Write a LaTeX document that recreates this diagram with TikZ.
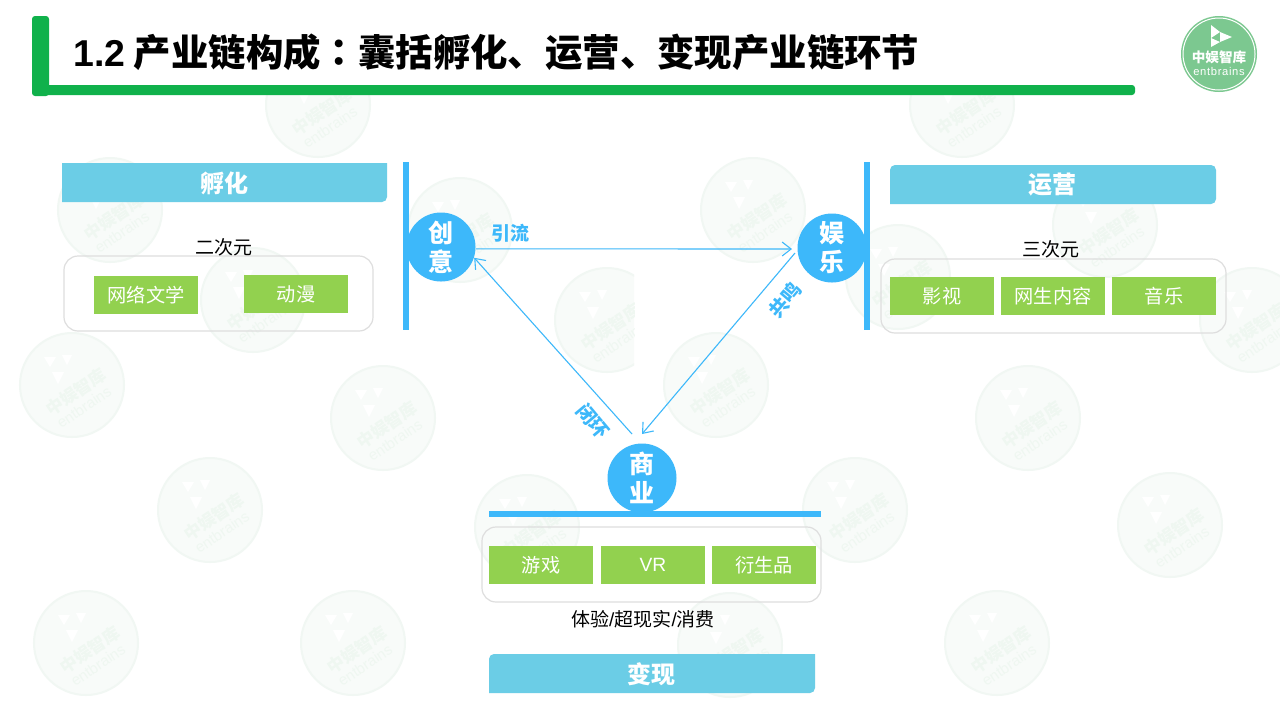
\documentclass[tikz,border=0pt]{standalone}
\usepackage{fontspec}
\setmainfont{Noto Sans CJK SC}
\newfontfamily\tcfont{Noto Sans CJK TC}
\newfontfamily\latinfont{Liberation Sans}
\newfontfamily\spacedfont[LetterSpace=6]{Liberation Sans}
\usetikzlibrary{arrows.meta}
\definecolor{barblue}{HTML}{3DB8FA}
\definecolor{headblue}{HTML}{6BCDE6}
\definecolor{leaf}{HTML}{92D14F}
\definecolor{titlegreen}{HTML}{10B14B}
\definecolor{logogreen}{HTML}{7CC890}
\definecolor{wmfill}{HTML}{F8FBF9}
\definecolor{wmring}{HTML}{F1F7F3}
\definecolor{wmtext}{HTML}{EFF7F1}
\newcommand{\pxs}[2]{\fontsize{#1}{#2}\selectfont}
\newcommand{\wmark}[2]{%
  \begin{scope}[shift={(#1,#2)}]
    \fill[wmfill,draw=wmring,line width=1pt] (0,0) circle (52);
    \fill[white] (-28,-28)--(-16,-28)--(-22,-18)--cycle (-10,-30)--(0,-30)--(-5,-20)--cycle (-20,-13)--(-8,-13)--(-14,-1)--cycle;
    \node[text=wmtext,rotate=34,font=\pxs{8.5}{10}\bfseries,inner sep=0pt] at (4,7) {中娱智库};
    \node[text=wmtext,rotate=34,font=\latinfont\pxs{7.5}{9},inner sep=0pt] at (12,22) {entbrains};
  \end{scope}}
\tikzset{
  x=0.5pt,y=-0.5pt,
  leafbox/.style={fill=leaf,text=white,minimum width=52pt,minimum height=19pt,inner sep=0pt,font=\pxs{9.6}{12}},
  groupbox/.style={draw=black!13,line width=.6pt,rounded corners=7pt},
  headfill/.style={fill=headblue},
  headtext/.style={text=white,font=\pxs{12}{14}\bfseries,inner sep=0pt},
  plain/.style={text=black,font=\pxs{9.5}{12},inner sep=0pt},
  hub/.style={circle,fill=barblue,text=white,minimum size=34.5pt,inner sep=0pt,align=center,font=\pxs{12.5}{14.5}\bfseries},
  wire/.style={draw=barblue,line width=.55pt},
  wiretip/.style={wire,-{Straight Barb[length=4.5pt,width=7pt,line width=.55pt]}},
  tag/.style={text=barblue,font=\pxs{9.5}{11}\bfseries,inner sep=0pt},
  rail/.style={fill=barblue},
}
\begin{document}
\begin{tikzpicture}
\useasboundingbox (0,0) rectangle (1280,720);
\fill[white] (0,0) rectangle (1280,720);
% watermarks
\begin{scope}
\clip (0,0) rectangle (1280,720);
\foreach \a/\b in {318/105,962/105,110/210,753/210,1105/225,460/230,253/300,898/277,1252/320,72/385,716/385,383/418,1028/418,210/510,527/527,855/510,1170/525,86/643,353/643,730/645,997/643}{\wmark{\a}{\b}}
\begin{scope}
\clip (500,200) rectangle (634,440);
\wmark{607}{320}
\end{scope}
\end{scope}
\fill[white] (0,0) rectangle (1280,85);
% title
\fill[titlegreen,rounded corners=1.5pt] (32,16) rectangle (49,96);
\fill[titlegreen,rounded corners=1.5pt] (40,85) rectangle (1135,95);
\node[anchor=west,inner sep=0pt,text=black,font=\pxs{18.7}{22}\bfseries] (title) at (73,52)
  {{\latinfont 1.2} 产业链构成{\tcfont ：}囊括孵化、运营、变现产业链环节};
% logo
\fill[logogreen] (1219,54) circle (38);
\draw[white,line width=.5pt] (1219,54) circle (36);
\fill[white] (1211,25)--(1211,38)--(1220,32)--cycle (1220,32)--(1232,37)--(1220,42)--cycle (1211,38)--(1220,42)--(1211,47)--cycle;
\node[text=white,font=\pxs{6.8}{8}\bfseries,inner sep=0pt] (logoa) at (1219,57) {中娱智库};
\node[text=white,font=\spacedfont\pxs{5.6}{7},inner sep=0pt] (logob) at (1219,71) {entbrains};
% headers
\path[headfill,rounded corners=2.5pt] (62,163) [sharp corners] -- (387,163) [rounded corners=2.5pt] -- (387,202) [sharp corners] -- (62,202) -- cycle;
\node[headtext] (h1) at (224,183) {孵化};
\path[headfill,rounded corners=2.5pt] (890,170) [rounded corners=2.5pt] -- (890,165) -- (1216,165) [rounded corners=2.5pt] -- (1216,204) [sharp corners] -- (890,204) -- cycle;
\node[headtext] (h2) at (1052,185) {运营};
\path[headfill] (489,660) [rounded corners=2.5pt] -- (489,654) [sharp corners] -- (815,654) [rounded corners=2.5pt] -- (815,693) [sharp corners] -- (489,693) -- cycle;
\node[headtext] (h3) at (651,674) {变现};
% group frames
\draw[groupbox] (64,256) rectangle (373,331);
\draw[groupbox] (881,259) rectangle (1226,333);
\draw[groupbox] (482,527) rectangle (821,602);
% green boxes
\node[leafbox] (b1) at (146,295) {网络文学};
\node[leafbox] (b2) at (296,294) {动漫};
\node[leafbox] (b3) at (942,296) {影视};
\node[leafbox] (b4) at (1053,296) {网生内容};
\node[leafbox] (b5) at (1164,296) {音乐};
\node[leafbox] (b6) at (541,565) {游戏};
\node[leafbox] (b7) at (653,565) {{\latinfont VR}};
\node[leafbox] (b8) at (764,565) {衍生品};
% captions
\node[plain] (c1) at (224,247) {二次元};
\node[plain] (c2) at (1051,249) {三次元};
\node[plain] (c3) at (643,619) {体验{\latinfont /}超现实{\latinfont /}消费};
% hubs
\node[hub] (cy) at (441,247) {创\\意};
\node[hub] (yl) at (832,248) {娱\\乐};
\node[hub] (sy) at (642,478) {商\\业};
% rails
\fill[rail] (403,162) rectangle (409,330);
\fill[rail] (864,162) rectangle (870,330);
\fill[rail] (489,511) rectangle (821,517);
% connectors
\coordinate (sya) at (632,434);
\coordinate (syb) at (642,434);
\coordinate (ylb) at (795,253);
\coordinate (yla) at (792,249);
\draw[wiretip] (cy.-3) -- (yla);
\draw[wiretip] (sya) -- (cy.-18);
\draw[wiretip] (ylb) -- (syb);
\node[tag] (t1) at (510,233) {引流};
\node[tag,rotate=50] (t2) at (785,300) {共鸣};
\node[tag,rotate=-50] (t3) at (593,421) {闭环};
\end{tikzpicture}
\end{document}
